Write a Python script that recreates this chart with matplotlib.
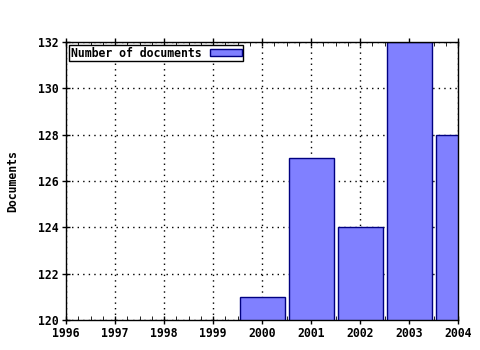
import matplotlib
matplotlib.use("Agg")
import matplotlib.pyplot as plt
from matplotlib.ticker import MultipleLocator


years = [2000, 2001, 2002, 2003, 2004]
documents = [121, 127, 124, 132, 128]
series_label = "Number of documents"

plt.rcParams["font.family"] = "DejaVu Sans Mono"
plt.rcParams["font.weight"] = "bold"
plt.rcParams["font.size"] = 8.3


def main():

    fig = plt.figure(figsize=(4.8, 3.5), dpi=100)
    ax = fig.add_axes([0.1375, 0.0857, 0.817, 0.794])

    ax.bar(years, documents, width=0.92, color="#8080ff",
           edgecolor="#000080", linewidth=1, label=series_label, zorder=2)

    ax.set_xlim(1996, 2004)
    ax.set_ylim(120, 132)
    ax.xaxis.set_major_locator(MultipleLocator(1))
    ax.xaxis.set_minor_locator(MultipleLocator(0.25))
    ax.yaxis.set_major_locator(MultipleLocator(2))

    ax.grid(True, which="major", color="black", linestyle=(0, (1, 3)),
            linewidth=1, zorder=1)

    ax.tick_params(axis="x", which="major", direction="inout", length=6,
                   top=True, width=1, pad=2)
    ax.tick_params(axis="x", which="minor", direction="in", length=3,
                   top=True)
    ax.tick_params(axis="y", which="major", direction="inout", length=6,
                   width=1, pad=2)
    for label in ax.get_xticklabels() + ax.get_yticklabels():
        label.set_fontweight("bold")

    for s in ax.spines.values():
        s.set_linewidth(1)
        s.set_zorder(3)

    ax.set_ylabel("Documents", fontweight="bold", labelpad=14)

    leg = ax.legend(loc="upper left", fancybox=False, framealpha=1,
                    edgecolor="black", borderpad=0.15, borderaxespad=0.25,
                    handlelength=2.7, handleheight=0.6, handletextpad=0.8,
                    markerfirst=False)
    leg.get_frame().set_linewidth(1)
    for t in leg.get_texts():
        t.set_fontweight("bold")

    fig.savefig("out.png", dpi=100)
    plt.close(fig)


if __name__ == "__main__":
    main()
